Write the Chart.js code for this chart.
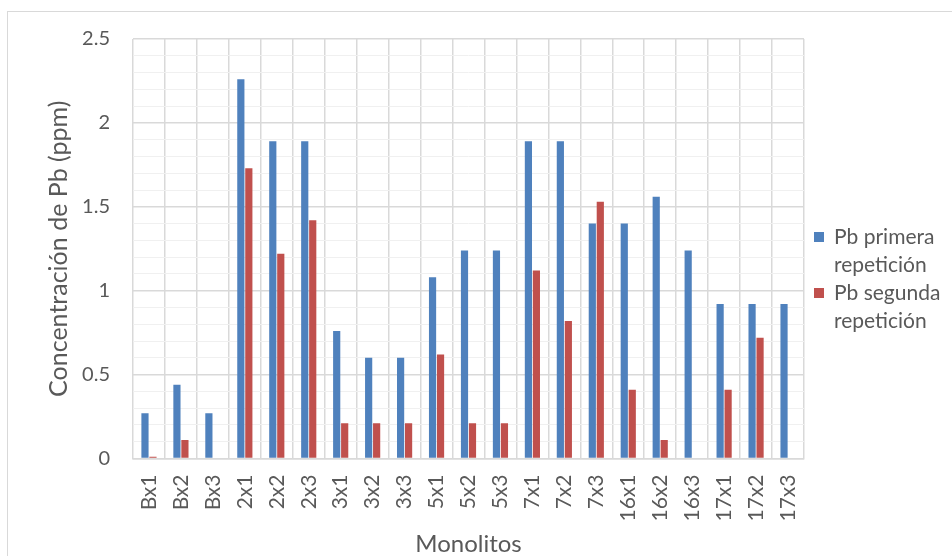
<!DOCTYPE html>
<html>
<head>
<meta charset="utf-8">
<script src="https://cdn.jsdelivr.net/npm/chart.js@4/dist/chart.umd.min.js"></script>
<style>
  html, body { margin: 0; padding: 0; background: #fff; overflow: hidden; }
  #wrap { position: relative; width: 952px; height: 556px; }
  #frame { position: absolute; left: 7px; top: 11px; width: 1000px; height: 600px; border: 1px solid #d9d9d9; }
  #chart { position: absolute; left: 0; top: 0; }
  #legend { position: absolute; left: 814px; top: 222px; font-family: Lato, sans-serif; font-size: 21px; line-height: 28px; color: #595959; }
  .item { position: relative; padding-left: 20px; }
  .box { position: absolute; left: 0; top: 10px; width: 10px; height: 10px; }
</style>
</head>
<body>
<div id="wrap">
  <div id="frame"></div>
  <canvas id="chart" width="952" height="556"></canvas>
  <div id="legend"></div>
</div>
<script>
// ── Data ──────────────────────────────────────────────────────────────────────
const categories = ['Bx1', 'Bx2', 'Bx3', '2x1', '2x2', '2x3', '3x1', '3x2', '3x3', '5x1',
                    '5x2', '5x3', '7x1', '7x2', '7x3', '16x1', '16x2', '16x3', '17x1', '17x2', '17x3'];
const primera  = [0.27, 0.44, 0.27, 2.26, 1.89, 1.89, 0.76, 0.60, 0.60, 1.08,
                  1.24, 1.24, 1.89, 1.89, 1.40, 1.40, 1.56, 1.24, 0.92, 0.92, 0.92];
const segunda  = [0.01, 0.11, 0, 1.73, 1.22, 1.42, 0.21, 0.21, 0.21, 0.62,
                  0.21, 0.21, 1.12, 0.82, 1.53, 0.41, 0.11, 0, 0.41, 0.72, 0];
const seriesNames = [['Pb primera', 'repetición'], ['Pb segunda', 'repetición']];
const seriesColors = ['#4f81bd', '#c0504d'];
const yTitle = 'Concentración de Pb (ppm)';
const xTitle = 'Monolitos';

// ── Chart ─────────────────────────────────────────────────────────────────────
const grey = '#595959';
const font = 'Lato, sans-serif';

new Chart(document.getElementById('chart'), {
  type: 'bar',
  data: {
    labels: categories,
    datasets: [
      { label: seriesNames[0].join(' '), data: primera, backgroundColor: seriesColors[0] },
      { label: seriesNames[1].join(' '), data: segunda, backgroundColor: seriesColors[1] }
    ]
  },
  options: {
    responsive: false,
    animation: false,
    layout: { padding: { left: 0, top: 39, right: 148, bottom: 0 } },
    datasets: { bar: { categoryPercentage: 0.5, barPercentage: 0.9 } },
    plugins: { legend: { display: false }, tooltip: { enabled: false } },
    scales: {
      x: {
        grid: { color: '#d9d9d9', lineWidth: 1.5, drawTicks: false },
        border: { color: '#d9d9d9', width: 1.5 },
        ticks: { color: grey, font: { family: font, size: 21 }, minRotation: 90, maxRotation: 90, padding: 16, autoSkip: false },
        title: { display: true, text: xTitle, color: grey, font: { family: font, size: 24, lineHeight: 1 }, padding: { top: 0, bottom: 0 } },
        afterFit: function(s) { s.height = 97.5; }
      },
      y: {
        min: 0, max: 2.5,
        grid: {
          drawTicks: false,
          color: function(c) { return Math.round(c.tick.value * 10) % 5 === 0 ? '#d9d9d9' : '#f0f0f0'; },
          lineWidth: function(c) { return Math.round(c.tick.value * 10) % 5 === 0 ? 1.5 : 1; }
        },
        border: { display: false },
        ticks: {
          stepSize: 0.1, autoSkip: false, padding: 23, color: grey,
          font: { family: font, size: 20 },
          callback: function(v) { return Math.round(v * 10) % 5 === 0 ? String(Number(v.toFixed(1))) : ''; }
        },
        title: { display: true, text: yTitle, color: grey, font: { family: font, size: 25, lineHeight: 1.2 }, padding: { top: 44, bottom: 0 } },
        afterFit: function(s) { s.width = 133; }
      }
    }
  }
});

// ── Legend ────────────────────────────────────────────────────────────────────
var legend = document.getElementById('legend');
seriesNames.forEach(function(lines, i) {
  var item = document.createElement('div');
  item.className = 'item';
  item.innerHTML = '<span class="box" style="background:' + seriesColors[i] + '"></span>' + lines.join('<br>');
  legend.appendChild(item);
});
</script>
</body>
</html>
